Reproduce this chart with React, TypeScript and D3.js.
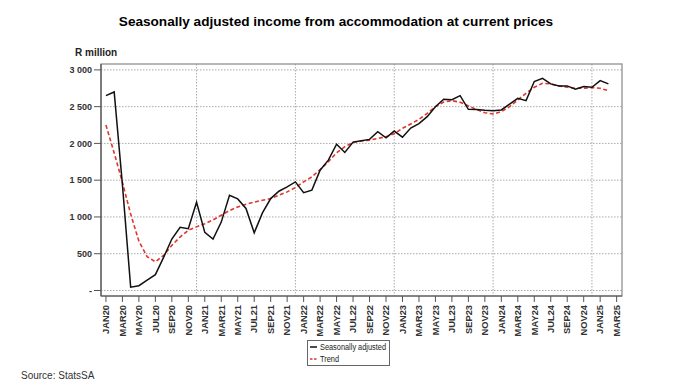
import React from "react";
import * as d3 from "d3";

// monthly, JAN20 .. FEB25 (R million)
const seasonallyAdjusted = [
  2650, 2700, 1440, 45, 65, 140, 215, 450, 700, 860, 840, 1200,
  790, 700, 930, 1295, 1245, 1115, 785, 1055, 1250, 1350, 1410, 1477,
  1330, 1365, 1636, 1773, 1990, 1877, 2018, 2036, 2055, 2159, 2077, 2168,
  2085, 2210, 2270, 2364, 2500, 2600, 2595, 2650, 2464, 2460, 2450, 2445,
  2455, 2535, 2614, 2582, 2841, 2886, 2809, 2782, 2782, 2736, 2773, 2764,
  2855, 2809
];
const trend = [
  2250, 1870, 1470, 1040, 670, 460, 390, 477, 614, 727, 818, 865,
  909, 960, 1023, 1087, 1136, 1173, 1202, 1227, 1250, 1295, 1341, 1400,
  1477, 1545, 1645, 1750, 1873, 1955, 2014, 2032, 2045, 2068, 2091, 2130,
  2205, 2264, 2327, 2409, 2500, 2562, 2582, 2560, 2510, 2460, 2418, 2400,
  2432, 2500, 2591, 2682, 2764, 2818, 2809, 2782, 2764, 2750, 2750, 2759,
  2750, 2716
];
const monthNames = ["JAN", "FEB", "MAR", "APR", "MAY", "JUN", "JUL", "AUG", "SEP", "OCT", "NOV", "DEC"];
const years = ["20", "21", "22", "23", "24", "25"];
const categories = years.flatMap(y => monthNames.map(m => m + y)).slice(0, 63);
const yTicks = [0, 500, 1000, 1500, 2000, 2500, 3000];
const yTickLabels = ["-", "500", "1 000", "1 500", "2 000", "2 500", "3 000"];

const frame = { left: 101, right: 622, top: 64, bottom: 296 };
const font = "Arial, 'Liberation Sans', sans-serif";

export default function App() {
  const x = d3
    .scaleLinear()
    .domain([-0.6, categories.length - 1 + 0.65])
    .range([frame.left, frame.right]);
  const y = d3
    .scaleLinear()
    .domain([-75, 3080])
    .range([frame.bottom, frame.top]);
  const line = d3
    .line<number>()
    .x((_, i) => x(i))
    .y(d => y(d));

  const decembers = categories
    .map((c, i) => (c.startsWith("DEC") ? i : -1))
    .filter(i => i >= 0);

  return (
    <svg
      width={700}
      height={391}
      style={{ position: "absolute", left: 0, top: 0, background: "#fff" }}
      fontFamily={font}
    >
      <rect width={700} height={391} fill="#fff" />
      <text x={336} y={26} textAnchor="middle" fontSize={13.6} fontWeight="bold" fill="#000">
        Seasonally adjusted income from accommodation at current prices
      </text>
      <text x={75} y={56} fontSize={10} fontWeight="bold" fill="#222">
        R million
      </text>

      {/* grid */}
      {yTicks.map(t => (
        <line
          key={"gy" + t}
          x1={frame.left}
          x2={frame.right}
          y1={y(t)}
          y2={y(t)}
          stroke="#aaa"
          strokeDasharray="1.5,1.5"
        />
      ))}
      {decembers.map(i => (
        <line
          key={"gx" + i}
          x1={x(i)}
          x2={x(i)}
          y1={frame.top}
          y2={frame.bottom}
          stroke="#aaa"
          strokeDasharray="1.5,1.5"
        />
      ))}

      {/* frame */}
      <rect
        x={frame.left}
        y={frame.top}
        width={frame.right - frame.left}
        height={frame.bottom - frame.top}
        fill="none"
        stroke="#888"
        strokeWidth={1.2}
      />
      <line x1={frame.left} x2={frame.left} y1={frame.top} y2={frame.bottom} stroke="#555" strokeWidth={1.2} />
      <line x1={frame.left} x2={frame.right} y1={frame.bottom} y2={frame.bottom} stroke="#555" strokeWidth={1.2} />

      {/* y axis */}
      {yTicks.map((t, i) => (
        <g key={"yt" + t}>
          <line x1={frame.left - 7} x2={frame.left} y1={y(t)} y2={y(t)} stroke="#555" />
          <text
            x={frame.left - 9}
            y={y(t)}
            dy="0.35em"
            textAnchor="end"
            fontSize={9}
            fontWeight="bold"
            fill="#333"
          >
            {yTickLabels[i]}
          </text>
        </g>
      ))}

      {/* x axis */}
      {categories.map((c, i) =>
        i % 2 === 0 ? (
          <g key={"xt" + c}>
            <line x1={x(i)} x2={x(i)} y1={frame.bottom} y2={frame.bottom + 6} stroke="#555" />
            <text
              transform={`translate(${x(i)},${frame.bottom + 9}) rotate(-90)`}
              dy="0.35em"
              textAnchor="end"
              fontSize={9.3}
              fontWeight="bold"
              fill="#333"
            >
              {c}
            </text>
          </g>
        ) : null
      )}

      {/* series */}
      <path d={line(trend) || ""} fill="none" stroke="#e0352b" strokeWidth={1.6} strokeDasharray="4,2.5" />
      <path d={line(seasonallyAdjusted) || ""} fill="none" stroke="#111" strokeWidth={1.5} />

      {/* legend */}
      <rect x={307.5} y={340.5} width={82} height={25} fill="#fff" stroke="#666" />
      <line x1={310} x2={317} y1={347} y2={347} stroke="#111" strokeWidth={1.5} />
      <text
        x={320}
        y={347}
        dy="0.35em"
        fontSize={8.5}
        fill="#222"
        textLength={66}
        lengthAdjust="spacingAndGlyphs"
      >
        Seasonally adjusted
      </text>
      <line x1={310} x2={317} y1={359} y2={359} stroke="#e0352b" strokeWidth={1.5} strokeDasharray="2.5,1.5" />
      <text x={320} y={359} dy="0.35em" fontSize={8.5} fill="#222" textLength={19} lengthAdjust="spacingAndGlyphs">
        Trend
      </text>

      <text x={21} y={379} fontSize={10} fill="#333">
        Source: StatsSA
      </text>
    </svg>
  );
}
